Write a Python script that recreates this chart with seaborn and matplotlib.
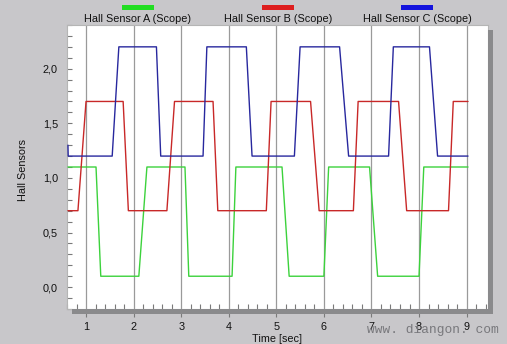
import numpy as np
import pandas as pd
import seaborn as sns
import matplotlib
matplotlib.use("Agg")
import matplotlib.pyplot as plt
from matplotlib.patches import Rectangle
from matplotlib.ticker import MultipleLocator, FixedLocator, FuncFormatter

# ---- data ----
t_a = [0.62, 1.21, 1.31, 2.11, 2.28, 3.08, 3.16, 4.07, 4.15, 5.12, 5.27, 6.00, 6.10, 6.96, 7.13, 8.00, 8.10, 9.03]
v_a = [1.1, 1.1, 0.1, 0.1, 1.1, 1.1, 0.1, 0.1, 1.1, 1.1, 0.1, 0.1, 1.1, 1.1, 0.1, 0.1, 1.1, 1.1]

t_b = [0.62, 0.83, 1.00, 1.78, 1.89, 2.70, 2.86, 3.67, 3.77, 4.79, 4.89, 5.72, 5.90, 6.62, 6.72, 7.57, 7.74, 8.62, 8.72, 9.03]
v_b = [0.7, 0.7, 1.7, 1.7, 0.7, 0.7, 1.7, 1.7, 0.7, 0.7, 1.7, 1.7, 0.7, 0.7, 1.7, 1.7, 0.7, 0.7, 1.7, 1.7]

t_c = [0.62, 0.625, 1.55, 1.69, 2.48, 2.57, 3.46, 3.54, 4.37, 4.49, 5.38, 5.50, 6.33, 6.52, 7.36, 7.46, 8.22, 8.39, 9.03]
v_c = [1.3, 1.2, 1.2, 2.2, 2.2, 1.2, 1.2, 2.2, 2.2, 1.2, 1.2, 2.2, 2.2, 1.2, 1.2, 2.2, 2.2, 1.2, 1.2]

series_names = ["Hall Sensor A (Scope)", "Hall Sensor B (Scope)", "Hall Sensor C (Scope)"]
line_colors = ["#3cd23c", "#c82828", "#28289e"]
swatch_colors = ["#22dd22", "#dd1e1e", "#1414dd"]
x_ticks = [1, 2, 3, 4, 5, 6, 7, 8, 9]
y_ticks = [0.0, 0.5, 1.0, 1.5, 2.0]

frames = []
for name, t, v in zip(series_names, [t_a, t_b, t_c], [v_a, v_b, v_c]):
    frames.append(pd.DataFrame({"Time": t, "Value": v, "Sensor": name, "order": range(len(t))}))
df = pd.concat(frames, ignore_index=True)

# ---- figure ----
sns.set_theme(style="white")
bg = "#c8c7ca"
plt.rcParams["font.family"] = ["Liberation Sans", "DejaVu Sans"]

W, H = 507, 344
fig = plt.figure(figsize=(W / 100, H / 100), dpi=100, facecolor=bg)
L, R, T, B = 67, 488, 25, 309
ax = fig.add_axes([L / W, 1 - B / H, (R - L) / W, (B - T) / H])
ax.set_facecolor("white")

# shadows
fig.patches.append(Rectangle((71.5 / W, 1 - 313.5 / H), (492.7 - 71.5) / W, 4.3 / H,
                             transform=fig.transFigure, facecolor="#8a8a8c", edgecolor="none", zorder=0))
fig.patches.append(Rectangle((488.3 / W, 1 - 313.5 / H), 4.4 / W, (313.5 - 30) / H,
                             transform=fig.transFigure, facecolor="#8a8a8c", edgecolor="none", zorder=0))

for xt in x_ticks:
    ax.axvline(xt, color="#9a9a9a", lw=0.9, zorder=1)

sns.lineplot(data=df, x="Time", y="Value", hue="Sensor", palette=line_colors,
             hue_order=series_names, sort=False, estimator=None, units="Sensor",
             lw=1.0, legend=False, ax=ax, zorder=3)

ax.set_xlim(0.6, 9.45)
ax.set_ylim(-0.2, 2.4)

for s in ax.spines.values():
    s.set_color("#b5b5b5")
    s.set_linewidth(0.8)

ax.xaxis.set_major_locator(FixedLocator(x_ticks))
ax.xaxis.set_minor_locator(MultipleLocator(0.2))
ax.yaxis.set_major_locator(FixedLocator(y_ticks))
ax.yaxis.set_minor_locator(MultipleLocator(0.1))
ax.yaxis.set_major_formatter(FuncFormatter(lambda v, p: f"{v:.1f}".replace(".", ",")))
ax.xaxis.set_major_formatter(FuncFormatter(lambda v, p: f"{int(round(v))}"))

ax.tick_params(axis="x", which="major", direction="out", length=5.8, width=0.8,
               color="#7a7a7a", pad=3.4, labelsize=7.8, labelcolor="#111111", bottom=True)
ax.tick_params(axis="x", which="minor", direction="in", length=3.6, width=0.8,
               color="#7a7a7a", bottom=True)
ax.tick_params(axis="y", which="both", direction="in", length=3.8, width=0.8,
               color="#7a7a7a", left=True)
ax.tick_params(axis="y", which="major", pad=6.5, labelsize=7.8, labelcolor="#111111")

ax.set_xlabel("Time [sec]", fontsize=7.8, color="#111111", va="center")
ax.xaxis.set_label_coords(0.50, (B - 339) / (B - T))
ax.set_ylabel("Hall Sensors", fontsize=7.8, color="#111111", va="center")
ax.yaxis.set_label_coords((23 - L) / (R - L), (B - 170) / (B - T))

# legend: swatches above labels
centers = [137.5, 277.8, 417.0]
for cx, name, col in zip(centers, series_names, swatch_colors):
    fig.patches.append(Rectangle(((cx - 16) / W, 1 - 10.3 / H), 32 / W, 5.3 / H,
                                 transform=fig.transFigure, facecolor=col, edgecolor="none"))
    fig.text(cx / W, 1 - 19.5 / H, name, ha="center", va="center", fontsize=7.8, color="#111111")

# watermark
fig.text(367 / W, 1 - 330 / H, "www. diangon. com", ha="left", va="center",
         fontsize=9.3, color="#78787c", family=["Liberation Mono", "DejaVu Sans Mono"], zorder=0)

fig.savefig("out.png", dpi=100, facecolor=bg)
